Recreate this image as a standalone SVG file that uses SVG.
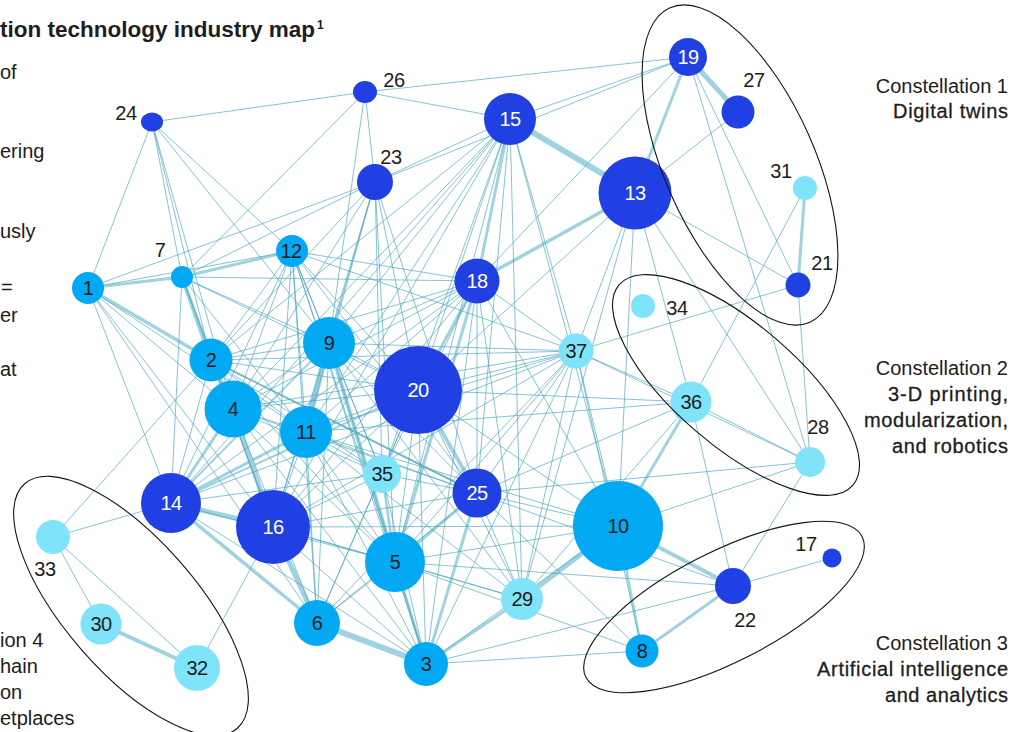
<svg xmlns="http://www.w3.org/2000/svg" width="1025" height="732" viewBox="0 0 1025 732">
<style>
text{font-family:"Liberation Sans",Arial,sans-serif;fill:#1d1d1d}
.e{stroke:#4aa6bf;stroke-width:0.9;opacity:0.75;fill:none}
.t{stroke:#9ad1de;fill:none;opacity:0.95}
.w2{stroke-width:2}.w25{stroke-width:2.5}.w3{stroke-width:3}.w35{stroke-width:3.5}.w4{stroke-width:4}.w5{stroke-width:5}.w6{stroke-width:6}
.dk{fill:#2140e3}.md{fill:#03a9f2}.lt{fill:#7fe4f9}
.nl{font-size:20px;text-anchor:middle;letter-spacing:-0.5px}
.wt{fill:#ffffff}
.ol{font-size:20px;text-anchor:middle;letter-spacing:-0.4px}
.con{fill:none;stroke:#141414;stroke-width:1.1}
.side{font-size:20px;text-anchor:end}
.desc{font-size:20px;text-anchor:end;stroke:#1d1d1d;stroke-width:0.3}
.lft{font-size:20px}
</style>
<rect width="1025" height="732" fill="#ffffff"/>
<g id="connectors">
<g id="thick-edges">
<line class="t w6" x1="510" y1="119" x2="635" y2="193"/>
<line class="t w5" x1="688" y1="57" x2="738" y2="112"/>
<line class="t w3" x1="688" y1="57" x2="635" y2="193"/>
<line class="t w35" x1="477" y1="281" x2="635" y2="193"/>
<line class="t w3" x1="510" y1="119" x2="477" y2="281"/>
<line class="t w3" x1="805" y1="188" x2="798" y2="285"/>
<line class="t w3" x1="88" y1="288" x2="182" y2="277"/>
<line class="t w3" x1="182" y1="277" x2="292" y2="251"/>
<line class="t w35" x1="88" y1="288" x2="211" y2="360"/>
<line class="t w4" x1="182" y1="277" x2="211" y2="360"/>
<line class="t w3" x1="211" y1="360" x2="233" y2="409"/>
<line class="t w5" x1="329" y1="343" x2="306" y2="432"/>
<line class="t w4" x1="329" y1="343" x2="395" y2="562"/>
<line class="t w5" x1="233" y1="409" x2="273" y2="527"/>
<line class="t w5" x1="171" y1="503" x2="273" y2="527"/>
<line class="t w35" x1="171" y1="503" x2="317" y2="623"/>
<line class="t w5" x1="273" y1="527" x2="317" y2="623"/>
<line class="t w6" x1="317" y1="623" x2="426" y2="664"/>
<line class="t w4" x1="101" y1="624" x2="197" y2="668"/>
<line class="t w5" x1="618" y1="526" x2="522" y2="599"/>
<line class="t w3" x1="522" y1="599" x2="426" y2="664"/>
<line class="t w4" x1="618" y1="526" x2="733" y2="586"/>
<line class="t w3" x1="733" y1="586" x2="642" y2="651"/>
<line class="t w25" x1="618" y1="526" x2="642" y2="651"/>
<line class="t w3" x1="618" y1="526" x2="691" y2="402"/>
<line class="t w3" x1="477" y1="493" x2="395" y2="562"/>
<line class="t w4" x1="418" y1="390" x2="477" y2="493"/>
<line class="t w3" x1="477" y1="281" x2="418" y2="390"/>
<line class="t w3" x1="477" y1="281" x2="395" y2="562"/>
<line class="t w3" x1="171" y1="503" x2="233" y2="409"/>
<line class="t w3" x1="171" y1="503" x2="306" y2="432"/>
<line class="t w2" x1="171" y1="503" x2="329" y2="343"/>
<line class="t w2" x1="171" y1="503" x2="418" y2="390"/>
<line class="t w3" x1="426" y1="664" x2="477" y2="493"/>
<line class="t w3" x1="395" y1="562" x2="426" y2="664"/>
<line class="t w25" x1="382" y1="474" x2="395" y2="562"/>
<line class="t w2" x1="211" y1="360" x2="477" y2="493" style="stroke:#6fb4c6"/>
</g>
<g id="thin-edges">
<line class="e" x1="152" y1="122" x2="365" y2="92"/>
<line class="e" x1="152" y1="122" x2="88" y2="288"/>
<line class="e" x1="152" y1="122" x2="182" y2="277"/>
<line class="e" x1="152" y1="122" x2="211" y2="360"/>
<line class="e" x1="152" y1="122" x2="292" y2="251"/>
<line class="e" x1="152" y1="122" x2="329" y2="343"/>
<line class="e" x1="152" y1="122" x2="233" y2="409"/>
<line class="e" x1="365" y1="92" x2="510" y2="119"/>
<line class="e" x1="365" y1="92" x2="182" y2="277"/>
<line class="e" x1="365" y1="92" x2="375" y2="182"/>
<line class="e" x1="365" y1="92" x2="329" y2="343"/>
<line class="e" x1="365" y1="92" x2="688" y2="57"/>
<line class="e" x1="375" y1="182" x2="510" y2="119"/>
<line class="e" x1="375" y1="182" x2="688" y2="57"/>
<line class="e" x1="375" y1="182" x2="88" y2="288"/>
<line class="e" x1="375" y1="182" x2="182" y2="277"/>
<line class="e" x1="375" y1="182" x2="329" y2="343"/>
<line class="e" x1="375" y1="182" x2="306" y2="432"/>
<line class="e" x1="375" y1="182" x2="418" y2="390"/>
<line class="e" x1="375" y1="182" x2="477" y2="493"/>
<line class="e" x1="375" y1="182" x2="382" y2="474"/>
<line class="e" x1="375" y1="182" x2="395" y2="562"/>
<line class="e" x1="375" y1="182" x2="233" y2="409"/>
<line class="e" x1="375" y1="182" x2="211" y2="360"/>
<line class="e" x1="375" y1="182" x2="273" y2="527"/>
<line class="e" x1="510" y1="119" x2="688" y2="57"/>
<line class="e" x1="510" y1="119" x2="171" y2="503"/>
<line class="e" x1="510" y1="119" x2="273" y2="527"/>
<line class="e" x1="510" y1="119" x2="306" y2="432"/>
<line class="e" x1="510" y1="119" x2="329" y2="343"/>
<line class="e" x1="510" y1="119" x2="418" y2="390"/>
<line class="e" x1="510" y1="119" x2="477" y2="493"/>
<line class="e" x1="510" y1="119" x2="576" y2="351"/>
<line class="e" x1="510" y1="119" x2="233" y2="409"/>
<line class="e" x1="510" y1="119" x2="382" y2="474"/>
<line class="e" x1="510" y1="119" x2="522" y2="599"/>
<line class="e" x1="510" y1="119" x2="395" y2="562"/>
<line class="e" x1="510" y1="119" x2="618" y2="526"/>
<line class="e" x1="510" y1="119" x2="211" y2="360"/>
<line class="e" x1="688" y1="57" x2="477" y2="281"/>
<line class="e" x1="688" y1="57" x2="798" y2="285"/>
<line class="e" x1="688" y1="57" x2="810" y2="462"/>
<line class="e" x1="738" y1="112" x2="635" y2="193"/>
<line class="e" x1="635" y1="193" x2="798" y2="285"/>
<line class="e" x1="635" y1="193" x2="618" y2="526"/>
<line class="e" x1="635" y1="193" x2="576" y2="351"/>
<line class="e" x1="635" y1="193" x2="691" y2="402"/>
<line class="e" x1="635" y1="193" x2="418" y2="390"/>
<line class="e" x1="635" y1="193" x2="522" y2="599"/>
<line class="e" x1="635" y1="193" x2="810" y2="462"/>
<line class="e" x1="805" y1="188" x2="691" y2="402"/>
<line class="e" x1="798" y1="285" x2="576" y2="351"/>
<line class="e" x1="798" y1="285" x2="810" y2="462"/>
<line class="e" x1="691" y1="402" x2="576" y2="351"/>
<line class="e" x1="691" y1="402" x2="810" y2="462"/>
<line class="e" x1="691" y1="402" x2="418" y2="390"/>
<line class="e" x1="691" y1="402" x2="733" y2="586"/>
<line class="e" x1="691" y1="402" x2="522" y2="599"/>
<line class="e" x1="691" y1="402" x2="477" y2="493"/>
<line class="e" x1="691" y1="402" x2="306" y2="432"/>
<line class="e" x1="810" y1="462" x2="618" y2="526"/>
<line class="e" x1="810" y1="462" x2="733" y2="586"/>
<line class="e" x1="810" y1="462" x2="477" y2="493"/>
<line class="e" x1="810" y1="462" x2="576" y2="351"/>
<line class="e" x1="576" y1="351" x2="418" y2="390"/>
<line class="e" x1="576" y1="351" x2="477" y2="281"/>
<line class="e" x1="576" y1="351" x2="618" y2="526"/>
<line class="e" x1="576" y1="351" x2="522" y2="599"/>
<line class="e" x1="576" y1="351" x2="426" y2="664"/>
<line class="e" x1="576" y1="351" x2="477" y2="493"/>
<line class="e" x1="576" y1="351" x2="395" y2="562"/>
<line class="e" x1="576" y1="351" x2="306" y2="432"/>
<line class="e" x1="576" y1="351" x2="329" y2="343"/>
<line class="e" x1="576" y1="351" x2="233" y2="409"/>
<line class="e" x1="576" y1="351" x2="171" y2="503"/>
<line class="e" x1="576" y1="351" x2="273" y2="527"/>
<line class="e" x1="576" y1="351" x2="642" y2="651"/>
<line class="e" x1="576" y1="351" x2="211" y2="360"/>
<line class="e" x1="576" y1="351" x2="317" y2="623"/>
<line class="e" x1="576" y1="351" x2="292" y2="251"/>
<line class="e" x1="618" y1="526" x2="477" y2="493"/>
<line class="e" x1="618" y1="526" x2="418" y2="390"/>
<line class="e" x1="618" y1="526" x2="395" y2="562"/>
<line class="e" x1="618" y1="526" x2="306" y2="432"/>
<line class="e" x1="618" y1="526" x2="273" y2="527"/>
<line class="e" x1="618" y1="526" x2="477" y2="281"/>
<line class="e" x1="618" y1="526" x2="426" y2="664"/>
<line class="e" x1="642" y1="651" x2="426" y2="664"/>
<line class="e" x1="642" y1="651" x2="477" y2="493"/>
<line class="e" x1="642" y1="651" x2="395" y2="562"/>
<line class="e" x1="832" y1="558" x2="733" y2="586"/>
<line class="e" x1="733" y1="586" x2="426" y2="664"/>
<line class="e" x1="733" y1="586" x2="395" y2="562"/>
<line class="e" x1="733" y1="586" x2="477" y2="493"/>
<line class="e" x1="522" y1="599" x2="477" y2="493"/>
<line class="e" x1="522" y1="599" x2="418" y2="390"/>
<line class="e" x1="522" y1="599" x2="477" y2="281"/>
<line class="e" x1="522" y1="599" x2="273" y2="527"/>
<line class="e" x1="522" y1="599" x2="395" y2="562"/>
<line class="e" x1="522" y1="599" x2="306" y2="432"/>
<line class="e" x1="522" y1="599" x2="329" y2="343"/>
<line class="e" x1="426" y1="664" x2="418" y2="390"/>
<line class="e" x1="426" y1="664" x2="382" y2="474"/>
<line class="e" x1="426" y1="664" x2="306" y2="432"/>
<line class="e" x1="426" y1="664" x2="329" y2="343"/>
<line class="e" x1="426" y1="664" x2="273" y2="527"/>
<line class="e" x1="426" y1="664" x2="171" y2="503"/>
<line class="e" x1="426" y1="664" x2="477" y2="281"/>
<line class="e" x1="426" y1="664" x2="233" y2="409"/>
<line class="e" x1="426" y1="664" x2="292" y2="251"/>
<line class="e" x1="395" y1="562" x2="273" y2="527"/>
<line class="e" x1="395" y1="562" x2="171" y2="503"/>
<line class="e" x1="395" y1="562" x2="317" y2="623"/>
<line class="e" x1="395" y1="562" x2="306" y2="432"/>
<line class="e" x1="395" y1="562" x2="233" y2="409"/>
<line class="e" x1="395" y1="562" x2="418" y2="390"/>
<line class="e" x1="395" y1="562" x2="292" y2="251"/>
<line class="e" x1="395" y1="562" x2="211" y2="360"/>
<line class="e" x1="317" y1="623" x2="382" y2="474"/>
<line class="e" x1="317" y1="623" x2="306" y2="432"/>
<line class="e" x1="317" y1="623" x2="418" y2="390"/>
<line class="e" x1="317" y1="623" x2="477" y2="493"/>
<line class="e" x1="317" y1="623" x2="329" y2="343"/>
<line class="e" x1="317" y1="623" x2="292" y2="251"/>
<line class="e" x1="317" y1="623" x2="233" y2="409"/>
<line class="e" x1="382" y1="474" x2="306" y2="432"/>
<line class="e" x1="382" y1="474" x2="418" y2="390"/>
<line class="e" x1="382" y1="474" x2="329" y2="343"/>
<line class="e" x1="382" y1="474" x2="292" y2="251"/>
<line class="e" x1="382" y1="474" x2="273" y2="527"/>
<line class="e" x1="382" y1="474" x2="233" y2="409"/>
<line class="e" x1="382" y1="474" x2="211" y2="360"/>
<line class="e" x1="382" y1="474" x2="477" y2="493"/>
<line class="e" x1="382" y1="474" x2="477" y2="281"/>
<line class="e" x1="382" y1="474" x2="171" y2="503"/>
<line class="e" x1="477" y1="493" x2="329" y2="343"/>
<line class="e" x1="477" y1="493" x2="306" y2="432"/>
<line class="e" x1="477" y1="493" x2="273" y2="527"/>
<line class="e" x1="477" y1="493" x2="233" y2="409"/>
<line class="e" x1="477" y1="493" x2="477" y2="281"/>
<line class="e" x1="477" y1="493" x2="292" y2="251"/>
<line class="e" x1="418" y1="390" x2="306" y2="432"/>
<line class="e" x1="418" y1="390" x2="329" y2="343"/>
<line class="e" x1="418" y1="390" x2="233" y2="409"/>
<line class="e" x1="418" y1="390" x2="273" y2="527"/>
<line class="e" x1="418" y1="390" x2="211" y2="360"/>
<line class="e" x1="418" y1="390" x2="292" y2="251"/>
<line class="e" x1="418" y1="390" x2="182" y2="277"/>
<line class="e" x1="477" y1="281" x2="329" y2="343"/>
<line class="e" x1="477" y1="281" x2="306" y2="432"/>
<line class="e" x1="477" y1="281" x2="233" y2="409"/>
<line class="e" x1="477" y1="281" x2="171" y2="503"/>
<line class="e" x1="477" y1="281" x2="273" y2="527"/>
<line class="e" x1="477" y1="281" x2="211" y2="360"/>
<line class="e" x1="477" y1="281" x2="292" y2="251"/>
<line class="e" x1="477" y1="281" x2="182" y2="277"/>
<line class="e" x1="329" y1="343" x2="292" y2="251"/>
<line class="e" x1="329" y1="343" x2="182" y2="277"/>
<line class="e" x1="329" y1="343" x2="211" y2="360"/>
<line class="e" x1="329" y1="343" x2="233" y2="409"/>
<line class="e" x1="329" y1="343" x2="273" y2="527"/>
<line class="e" x1="306" y1="432" x2="233" y2="409"/>
<line class="e" x1="306" y1="432" x2="273" y2="527"/>
<line class="e" x1="306" y1="432" x2="211" y2="360"/>
<line class="e" x1="306" y1="432" x2="292" y2="251"/>
<line class="e" x1="306" y1="432" x2="182" y2="277"/>
<line class="e" x1="233" y1="409" x2="292" y2="251"/>
<line class="e" x1="233" y1="409" x2="182" y2="277"/>
<line class="e" x1="233" y1="409" x2="88" y2="288"/>
<line class="e" x1="211" y1="360" x2="171" y2="503"/>
<line class="e" x1="211" y1="360" x2="273" y2="527"/>
<line class="e" x1="211" y1="360" x2="292" y2="251"/>
<line class="e" x1="171" y1="503" x2="88" y2="288"/>
<line class="e" x1="171" y1="503" x2="292" y2="251"/>
<line class="e" x1="171" y1="503" x2="53" y2="537"/>
<line class="e" x1="171" y1="503" x2="182" y2="277"/>
<line class="e" x1="273" y1="527" x2="197" y2="668"/>
<line class="e" x1="273" y1="527" x2="88" y2="288"/>
<line class="e" x1="273" y1="527" x2="292" y2="251"/>
<line class="e" x1="273" y1="527" x2="182" y2="277"/>
<line class="e" x1="88" y1="288" x2="292" y2="251"/>
<line class="e" x1="88" y1="288" x2="306" y2="432"/>
<line class="e" x1="88" y1="288" x2="317" y2="623"/>
<line class="e" x1="53" y1="537" x2="101" y2="624"/>
<line class="e" x1="53" y1="537" x2="197" y2="668"/>
<line class="e" x1="53" y1="537" x2="211" y2="360"/>
</g>
</g>
<g id="nodes">
<g id="node-1"><circle class="md" cx="88" cy="288" r="16"/><text class="nl" x="88" y="295">1</text></g>
<g id="node-2"><circle class="md" cx="211" cy="360" r="21.5"/><text class="nl" x="211" y="367">2</text></g>
<g id="node-3"><circle class="md" cx="426" cy="664" r="22"/><text class="nl" x="426" y="671">3</text></g>
<g id="node-4"><circle class="md" cx="233" cy="409" r="28.5"/><text class="nl" x="233" y="416">4</text></g>
<g id="node-5"><circle class="md" cx="395" cy="562" r="30"/><text class="nl" x="395" y="569">5</text></g>
<g id="node-6"><circle class="md" cx="317" cy="623" r="23"/><text class="nl" x="317" y="630">6</text></g>
<g id="node-7"><circle class="md" cx="182" cy="277" r="11"/><text class="ol" x="160" y="257">7</text></g>
<g id="node-8"><circle class="md" cx="642" cy="651" r="16.5"/><text class="nl" x="642" y="658">8</text></g>
<g id="node-9"><circle class="md" cx="329" cy="343" r="26"/><text class="nl" x="329" y="350">9</text></g>
<g id="node-10"><circle class="md" cx="618" cy="526" r="45"/><text class="nl" x="618" y="533">10</text></g>
<g id="node-11"><circle class="md" cx="306" cy="432" r="26"/><text class="nl" x="306" y="439">11</text></g>
<g id="node-12"><circle class="md" cx="292" cy="251" r="16"/><text class="nl" x="291" y="258">12</text></g>
<g id="node-13"><circle class="dk" cx="635" cy="193" r="36.5"/><text class="nl wt" x="635" y="200">13</text></g>
<g id="node-14"><circle class="dk" cx="171" cy="503" r="30"/><text class="nl wt" x="171" y="510">14</text></g>
<g id="node-15"><circle class="dk" cx="510" cy="119" r="26"/><text class="nl wt" x="510" y="126">15</text></g>
<g id="node-16"><circle class="dk" cx="273" cy="527" r="37"/><text class="nl wt" x="273" y="534">16</text></g>
<g id="node-17"><circle class="dk" cx="832" cy="558" r="9.5"/><text class="ol" x="806" y="551">17</text></g>
<g id="node-18"><circle class="dk" cx="477" cy="281" r="22.5"/><text class="nl wt" x="477" y="288">18</text></g>
<g id="node-19"><circle class="dk" cx="688" cy="57" r="19"/><text class="nl wt" x="688" y="64">19</text></g>
<g id="node-20"><circle class="dk" cx="418" cy="390" r="44"/><text class="nl wt" x="418" y="397">20</text></g>
<g id="node-21"><circle class="dk" cx="798" cy="285" r="12.5"/><text class="ol" x="822" y="270">21</text></g>
<g id="node-22"><circle class="dk" cx="733" cy="586" r="18"/><text class="ol" x="745" y="627">22</text></g>
<g id="node-23"><circle class="dk" cx="375" cy="182" r="18"/><text class="ol" x="391" y="164">23</text></g>
<g id="node-24"><ellipse class="dk" cx="152" cy="122" rx="11" ry="9.5"/><text class="ol" x="126" y="120">24</text></g>
<g id="node-25"><circle class="dk" cx="477" cy="493" r="24.5"/><text class="nl wt" x="477" y="500">25</text></g>
<g id="node-26"><ellipse class="dk" cx="365" cy="92" rx="12" ry="11"/><text class="ol" x="394" y="87">26</text></g>
<g id="node-27"><circle class="dk" cx="738" cy="112" r="16.5"/><text class="ol" x="754" y="87">27</text></g>
<g id="node-28"><circle class="lt" cx="810" cy="462" r="15"/><text class="ol" x="818" y="434">28</text></g>
<g id="node-29"><circle class="lt" cx="522" cy="599" r="21"/><text class="nl" x="522" y="606">29</text></g>
<g id="node-30"><circle class="lt" cx="101" cy="624" r="20.5"/><text class="nl" x="101" y="631">30</text></g>
<g id="node-31"><circle class="lt" cx="805" cy="188" r="12"/><text class="ol" x="781" y="178">31</text></g>
<g id="node-32"><circle class="lt" cx="197" cy="668" r="23"/><text class="nl" x="197" y="675">32</text></g>
<g id="node-33"><circle class="lt" cx="53" cy="537" r="17"/><text class="ol" x="45" y="576">33</text></g>
<g id="node-34"><circle class="lt" cx="643" cy="306" r="12"/><text class="ol" x="677" y="315">34</text></g>
<g id="node-35"><circle class="lt" cx="382" cy="474" r="19"/><text class="nl" x="382" y="481">35</text></g>
<g id="node-36"><circle class="lt" cx="691" cy="402" r="20.5"/><text class="nl" x="691" y="409">36</text></g>
<g id="node-37"><circle class="lt" cx="576" cy="351" r="17.5"/><text class="nl" x="576" y="358">37</text></g>
</g>
<g id="constellations">
<ellipse class="con" cx="0" cy="0" rx="172" ry="75" transform="translate(740 165) rotate(66)"/>
<ellipse class="con" cx="0" cy="0" rx="154" ry="61" transform="translate(736 385) rotate(40.6)"/>
<ellipse class="con" cx="0" cy="0" rx="155" ry="55" transform="translate(724 607) rotate(-27)"/>
<ellipse class="con" cx="0" cy="0" rx="162" ry="66" transform="translate(131 606) rotate(49)"/>
</g>
<g id="labels">
<text x="0" y="37" font-size="22" font-weight="bold" textLength="315" lengthAdjust="spacingAndGlyphs">tion technology industry map</text>
<text x="317" y="29" font-size="12" font-weight="bold">1</text>
<text class="lft" x="0" y="79">of</text>
<text class="lft" x="0" y="158">ering</text>
<text class="lft" x="0" y="238">usly</text>
<text class="lft" x="1" y="294">=</text>
<text class="lft" x="0" y="322">er</text>
<text class="lft" x="0" y="376">at</text>
<text class="lft" x="0" y="647">ion 4</text>
<text class="lft" x="0" y="673">hain</text>
<text class="lft" x="0" y="699">on</text>
<text class="lft" x="0" y="725">etplaces</text>
<text class="side" x="1008" y="93">Constellation 1</text>
<text class="desc" x="1008" y="118" textLength="115">Digital twins</text>
<text class="side" x="1008" y="375">Constellation 2</text>
<text class="desc" x="1008" y="401" textLength="120">3-D printing,</text>
<text class="desc" x="1008" y="427" textLength="144">modularization,</text>
<text class="desc" x="1008" y="453" textLength="116">and robotics</text>
<text class="side" x="1008" y="650">Constellation 3</text>
<text class="desc" x="1008" y="676" textLength="191">Artificial intelligence</text>
<text class="desc" x="1008" y="702" textLength="123">and analytics</text>
</g>
</svg>
